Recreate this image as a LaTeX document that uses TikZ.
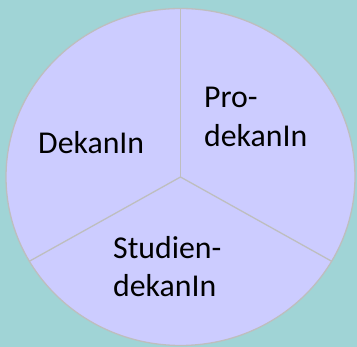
\documentclass[tikz,border=0pt]{standalone}
\usepackage{fontspec}
\setmainfont{Carlito}
\usetikzlibrary{calc}
\definecolor{bgteal}{HTML}{A0D4D6}
\definecolor{pielav}{HTML}{CCCCFF}
\definecolor{pieline}{HTML}{BEBEBE}
\begin{document}
\begin{tikzpicture}[x=1pt,y=1pt,
  lbl/.style={anchor=base west,inner sep=0pt,font=\fontsize{31.8}{38}\selectfont,text=black,align=left},
  sep/.style={draw=pieline,line width=1.3pt}]
\fill[bgteal] (0,0) rectangle (357,347);
\useasboundingbox (0,0) rectangle (357,347);
\coordinate (c) at (180.5,170);
\fill[pielav] (c) ellipse [x radius=174.5, y radius=168.5];
\draw[sep] (c) ellipse [x radius=174.5, y radius=168.5];
\coordinate (t) at ($(c)+(0,168.5)$);
\coordinate (l) at ($(c)+({174.5*cos(210)},{168.5*sin(210)})$);
\coordinate (r) at ($(c)+({174.5*cos(330)},{168.5*sin(330)})$);
\draw[sep] (c) -- (t);
\draw[sep] (c) -- (l);
\draw[sep] (c) -- (r);
\node[lbl] (dekan) at (38,193) {DekanIn};
\node[lbl] (pro1) at (204,239) {Pro-};
\node[lbl] (pro2) at (204,200) {dekanIn};
\node[lbl] (stu1) at (113,88) {Studien-};
\node[lbl] (stu2) at (113,50) {dekanIn};
\end{tikzpicture}
\end{document}
